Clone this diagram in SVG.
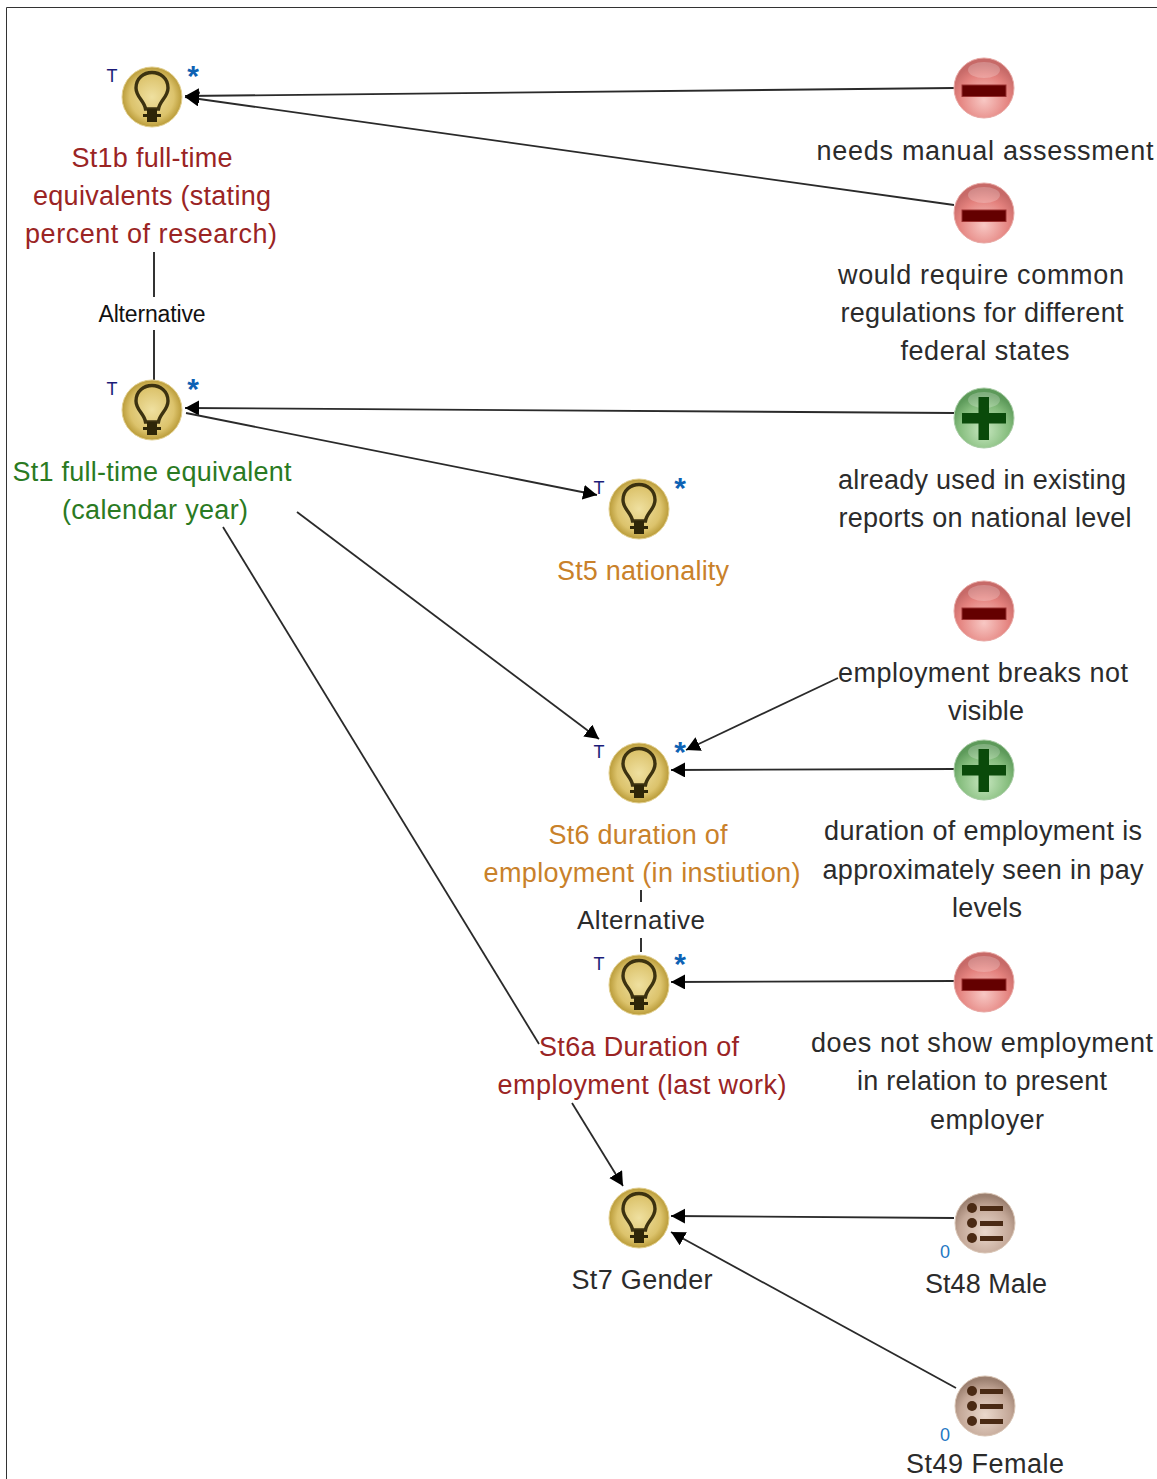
<svg xmlns="http://www.w3.org/2000/svg" width="1157" height="1479" viewBox="0 0 1157 1479">
<style>
text{font-family:"Liberation Sans",Arial,sans-serif;font-size:27px;text-anchor:middle}
.k{fill:#2b2b2b}.r{fill:#9a2424}.g{fill:#2a7a22}.o{fill:#c9812a}
.alt{font-size:23px;fill:#111}
.t{font-size:18px;fill:#1c1c78}.s{font-size:30px;fill:#0d62b4;font-weight:bold}.z{font-size:18px;fill:#1f78c4}
.c{fill:none;stroke:#2a2a2a;stroke-width:1.8}
.a{stroke:#333;stroke-width:2}
</style>
<defs>
<radialGradient id="gb" cx="50%" cy="50%" r="52%"><stop offset="0" stop-color="#efe0a0"/><stop offset=".7" stop-color="#dcc36c"/><stop offset="1" stop-color="#b59632"/></radialGradient>
<radialGradient id="gr" cx="50%" cy="70%" r="60%"><stop offset="0" stop-color="#f8c8c4"/><stop offset=".7" stop-color="#e4827e"/><stop offset="1" stop-color="#c76a68"/></radialGradient>
<radialGradient id="gg" cx="50%" cy="70%" r="60%"><stop offset="0" stop-color="#c8e8c0"/><stop offset=".7" stop-color="#84bc7c"/><stop offset="1" stop-color="#5d9a5a"/></radialGradient>
<radialGradient id="gl" cx="50%" cy="65%" r="60%"><stop offset="0" stop-color="#ead8cc"/><stop offset=".7" stop-color="#c4a898"/><stop offset="1" stop-color="#9c8070"/></radialGradient>
<marker id="ah" markerUnits="userSpaceOnUse" markerWidth="16" markerHeight="16" refX="14" refY="7.500" orient="auto"><path d="M0 0L14 7.500L0 15z" fill="#000"/></marker>
<g id="bulb"><circle r="30" fill="url(#gb)" stroke="#e2cf8e"/><path d="M-6.500 12C-7.500 4-16 0-16-9C-16-19-8-24.500 0-24.500C8-24.500 16-19 16-9C16 0 7.500 4 6.500 12z" fill="none" stroke="#3c3210" stroke-width="3.400"/><path d="M-5 12H5V17H9V20H5V25H-5V20H-9V17H-5z" fill="#2e2608"/></g>
<g id="minus"><circle r="30" fill="url(#gr)" stroke="#e8a8a4"/><ellipse cy="-18" rx="16" ry="8" fill="#fff" opacity=".22"/><rect x="-22" y="-3" width="44" height="11.500" fill="#640000" stroke="#9a3030"/></g>
<g id="plus"><circle r="30" fill="url(#gg)" stroke="#a8cca4"/><ellipse cy="-18" rx="16" ry="8" fill="#fff" opacity=".22"/><path d="M-5.500-21H5V-5H22V5.500H5V22H-5.500V5.500H-22V-5H-5.500z" fill="#0a4a0a"/></g>
<g id="list"><circle r="30" fill="url(#gl)" stroke="#d8c4b4"/><g fill="#4a2a14"><circle cx="-13" cy="-15" r="5"/><circle cx="-13" cy="0" r="5"/><circle cx="-13" cy="15" r="5"/><rect x="-5" y="-17" width="23" height="5"/><rect x="-5" y="-2" width="23" height="5"/><rect x="-5" y="13" width="23" height="5"/></g></g>
</defs>
<rect width="1157" height="1479" fill="#fff"/>
<path d="M6.500 1479V7.500H1157" fill="none" stroke="#333"/>
<g id="connectors">
<path class="a" d="M154 252V297M154 330V380M641 890V902M641 938V952"/>
<path class="c" marker-end="url(#ah)" d="M954 88L185 96"/>
<path class="c" marker-end="url(#ah)" d="M954 205L185 97"/>
<path class="c" marker-end="url(#ah)" d="M954 413L185 408"/>
<path class="c" marker-end="url(#ah)" d="M186 413L597 495"/>
<path class="c" marker-end="url(#ah)" d="M297 512L599 739"/>
<path class="c" marker-end="url(#ah)" d="M838 678L686 750"/>
<path class="c" marker-end="url(#ah)" d="M954 769L671 770"/>
<path class="c" marker-end="url(#ah)" d="M954 981L671 982"/>
<path class="c" d="M223 527L539 1044"/>
<path class="c" marker-end="url(#ah)" d="M572 1103L623 1186"/>
<path class="c" marker-end="url(#ah)" d="M954 1218L671 1216"/>
<path class="c" marker-end="url(#ah)" d="M956 1388L671 1232"/>
</g>
<g id="st1b"><use href="#bulb" x="152" y="97"/><text class="t" x="112" y="82">T</text><text class="s" x="193" y="86">*</text><text class="r" x="152" y="167" textLength="161">St1b full-time</text><text class="r" x="152" y="205" textLength="238">equivalents (stating</text><text class="r" x="151" y="243" textLength="252">percent of research)</text></g>
<g id="alt1"><text class="alt" x="152" y="322" textLength="107">Alternative</text></g>
<g id="st1"><use href="#bulb" x="152" y="410"/><text class="t" x="112" y="395">T</text><text class="s" x="193" y="399">*</text><text class="g" x="152" y="481" textLength="279">St1 full-time equivalent</text><text class="g" x="155" y="519" textLength="186">(calendar year)</text></g>
<g id="st5"><use href="#bulb" x="639" y="509"/><text class="t" x="599" y="494">T</text><text class="s" x="680" y="498">*</text><text class="o" x="643" y="580" textLength="172">St5 nationality</text></g>
<g id="st6"><use href="#bulb" x="639" y="773"/><text class="t" x="599" y="758">T</text><text class="s" x="680" y="762">*</text><text class="o" x="638" y="844" textLength="179">St6 duration of</text><text class="o" x="642" y="882" textLength="317">employment (in instiution)</text></g>
<g id="alt2"><text class="k" x="641" y="929" style="font-size:26px" textLength="128">Alternative</text></g>
<g id="st6a"><use href="#bulb" x="639" y="985"/><text class="t" x="599" y="970">T</text><text class="s" x="680" y="974">*</text><text class="r" x="639" y="1056" textLength="200">St6a Duration of</text><text class="r" x="642" y="1094" textLength="289">employment (last work)</text></g>
<g id="st7"><use href="#bulb" x="639" y="1218"/><text class="k" x="642" y="1289" textLength="141">St7 Gender</text></g>
<g id="c1"><use href="#minus" x="984" y="88"/><text class="k" x="985" y="160" textLength="337">needs manual assessment</text></g>
<g id="c2"><use href="#minus" x="984" y="213"/><text class="k" x="981" y="284" textLength="286">would require common</text><text class="k" x="982" y="322" textLength="283">regulations for different</text><text class="k" x="985" y="360" textLength="169">federal states</text></g>
<g id="p1"><use href="#plus" x="984" y="418"/><text class="k" x="982" y="489" textLength="288">already used in existing</text><text class="k" x="985" y="527" textLength="293">reports on national level</text></g>
<g id="c3"><use href="#minus" x="984" y="611"/><text class="k" x="983" y="682" textLength="290">employment breaks not</text><text class="k" x="986" y="720" textLength="76">visible</text></g>
<g id="p2"><use href="#plus" x="984" y="770"/><text class="k" x="983" y="840" textLength="318">duration of employment is</text><text class="k" x="983" y="879" textLength="321">approximately seen in pay</text><text class="k" x="987" y="917" textLength="70">levels</text></g>
<g id="c4"><use href="#minus" x="984" y="982"/><text class="k" x="982" y="1052" textLength="342">does not show employment</text><text class="k" x="982" y="1090" textLength="250">in relation to present</text><text class="k" x="987" y="1129" textLength="114">employer</text></g>
<g id="st48"><use href="#list" x="985" y="1223"/><text class="z" x="945" y="1258">0</text><text class="k" x="986" y="1293" textLength="122">St48 Male</text></g>
<g id="st49"><use href="#list" x="985" y="1406"/><text class="z" x="945" y="1441">0</text><text class="k" x="985" y="1473" textLength="158">St49 Female</text></g>
</svg>
